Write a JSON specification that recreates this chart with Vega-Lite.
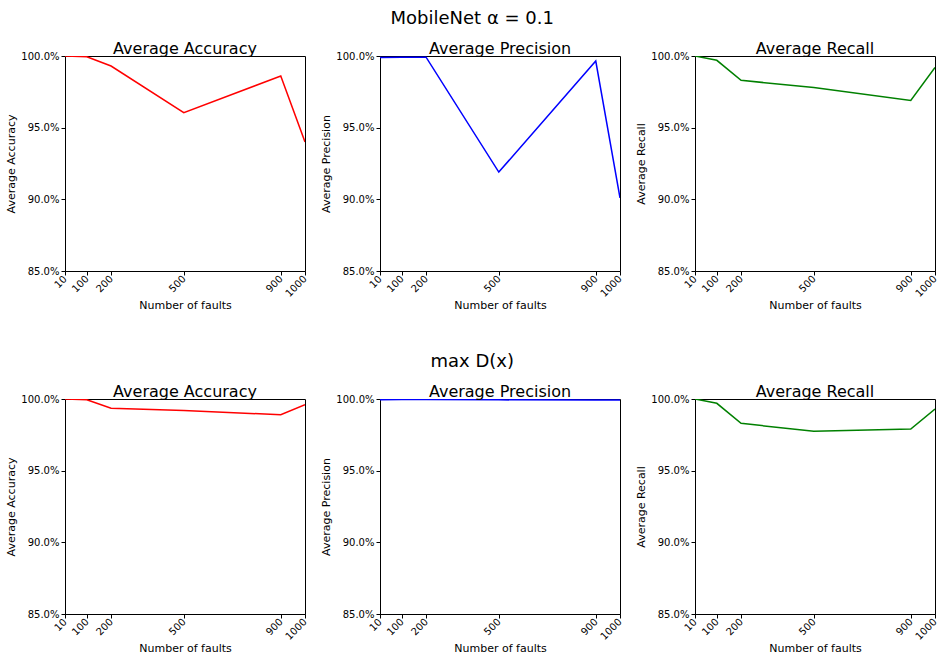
{
  "$schema": "https://vega.github.io/schema/vega-lite/v6.json",
  "padding": {"left": 5, "top": 9, "right": 5, "bottom": 5},
  "background": "white",
  "config": {
    "font": "DejaVu Sans",
    "view": {"stroke": "black", "strokeWidth": 1},
    "axis": {"grid": false, "domainColor": "black", "tickColor": "black", "labelColor": "black", "titleColor": "black", "labelFontSize": 10, "titleFontSize": 11, "titleFontWeight": "normal", "tickSize": 4, "labelPadding": 2, "labelOverlap": false},
    "axisY": {"titlePadding": 4},
    "axisX": {"titlePadding": 1},
    "title": {"fontWeight": "normal", "color": "black"}
  },
  "datasets": {
    "d": [
      {"group": "top", "metric": "Accuracy", "faults": 10, "value": 1.0},
      {"group": "top", "metric": "Accuracy", "faults": 100, "value": 0.9995},
      {"group": "top", "metric": "Accuracy", "faults": 200, "value": 0.993},
      {"group": "top", "metric": "Accuracy", "faults": 500, "value": 0.9605},
      {"group": "top", "metric": "Accuracy", "faults": 900, "value": 0.986},
      {"group": "top", "metric": "Accuracy", "faults": 1000, "value": 0.940},
      {"group": "top", "metric": "Precision", "faults": 10, "value": 0.999},
      {"group": "top", "metric": "Precision", "faults": 100, "value": 0.9992},
      {"group": "top", "metric": "Precision", "faults": 200, "value": 0.9992},
      {"group": "top", "metric": "Precision", "faults": 500, "value": 0.919},
      {"group": "top", "metric": "Precision", "faults": 900, "value": 0.9965},
      {"group": "top", "metric": "Precision", "faults": 1000, "value": 0.901},
      {"group": "top", "metric": "Recall", "faults": 10, "value": 1.0},
      {"group": "top", "metric": "Recall", "faults": 100, "value": 0.997},
      {"group": "top", "metric": "Recall", "faults": 200, "value": 0.983},
      {"group": "top", "metric": "Recall", "faults": 500, "value": 0.978},
      {"group": "top", "metric": "Recall", "faults": 900, "value": 0.969},
      {"group": "top", "metric": "Recall", "faults": 1000, "value": 0.992},
      {"group": "bottom", "metric": "Accuracy", "faults": 10, "value": 1.0},
      {"group": "bottom", "metric": "Accuracy", "faults": 100, "value": 0.9995},
      {"group": "bottom", "metric": "Accuracy", "faults": 200, "value": 0.9935},
      {"group": "bottom", "metric": "Accuracy", "faults": 500, "value": 0.992},
      {"group": "bottom", "metric": "Accuracy", "faults": 900, "value": 0.989},
      {"group": "bottom", "metric": "Accuracy", "faults": 1000, "value": 0.996},
      {"group": "bottom", "metric": "Precision", "faults": 10, "value": 0.9995},
      {"group": "bottom", "metric": "Precision", "faults": 100, "value": 0.9996},
      {"group": "bottom", "metric": "Precision", "faults": 200, "value": 0.9996},
      {"group": "bottom", "metric": "Precision", "faults": 500, "value": 0.9994},
      {"group": "bottom", "metric": "Precision", "faults": 900, "value": 0.9993},
      {"group": "bottom", "metric": "Precision", "faults": 1000, "value": 0.9993},
      {"group": "bottom", "metric": "Recall", "faults": 10, "value": 1.0},
      {"group": "bottom", "metric": "Recall", "faults": 100, "value": 0.997},
      {"group": "bottom", "metric": "Recall", "faults": 200, "value": 0.983},
      {"group": "bottom", "metric": "Recall", "faults": 500, "value": 0.9775},
      {"group": "bottom", "metric": "Recall", "faults": 900, "value": 0.979},
      {"group": "bottom", "metric": "Recall", "faults": 1000, "value": 0.993}
    ]
  },
  "spacing": 40,
  "vconcat": [
    {
      "title": {"text": "MobileNet α = 0.1", "fontSize": 18, "anchor": "middle", "offset": 13},
      "spacing": 10,
      "hconcat": [
        {
          "title": {"text": "Average Accuracy", "fontSize": 16, "offset": -6},
          "width": 240, "height": 215,
          "data": {"name": "d"},
          "transform": [{"filter": "datum.group == 'top' && datum.metric == 'Accuracy'"}],
          "mark": {"type": "line", "color": "#ff0000", "strokeWidth": 1.5, "clip": true},
          "encoding": {
            "x": {"field": "faults", "type": "quantitative", "scale": {"domain": [10, 1000], "nice": false, "zero": false}, "axis": {"values": [10, 100, 200, 500, 900, 1000], "format": "d", "labelAngle": -45, "labelAlign": "right", "labelBaseline": "middle", "title": "Number of faults", "labelFlush": false}},
            "y": {"field": "value", "type": "quantitative", "scale": {"domain": [0.85, 1.0], "nice": false, "zero": false}, "axis": {"values": [0.85, 0.9, 0.95, 1.0], "format": ".1%", "title": "Average Accuracy", "labelFlush": false}}
          }
        },
        {
          "title": {"text": "Average Precision", "fontSize": 16, "offset": -6},
          "width": 240, "height": 215,
          "data": {"name": "d"},
          "transform": [{"filter": "datum.group == 'top' && datum.metric == 'Precision'"}],
          "mark": {"type": "line", "color": "#0000ff", "strokeWidth": 1.5, "clip": true},
          "encoding": {
            "x": {"field": "faults", "type": "quantitative", "scale": {"domain": [10, 1000], "nice": false, "zero": false}, "axis": {"values": [10, 100, 200, 500, 900, 1000], "format": "d", "labelAngle": -45, "labelAlign": "right", "labelBaseline": "middle", "title": "Number of faults", "labelFlush": false}},
            "y": {"field": "value", "type": "quantitative", "scale": {"domain": [0.85, 1.0], "nice": false, "zero": false}, "axis": {"values": [0.85, 0.9, 0.95, 1.0], "format": ".1%", "title": "Average Precision", "labelFlush": false}}
          }
        },
        {
          "title": {"text": "Average Recall", "fontSize": 16, "offset": -6},
          "width": 240, "height": 215,
          "data": {"name": "d"},
          "transform": [{"filter": "datum.group == 'top' && datum.metric == 'Recall'"}],
          "mark": {"type": "line", "color": "#008000", "strokeWidth": 1.5, "clip": true},
          "encoding": {
            "x": {"field": "faults", "type": "quantitative", "scale": {"domain": [10, 1000], "nice": false, "zero": false}, "axis": {"values": [10, 100, 200, 500, 900, 1000], "format": "d", "labelAngle": -45, "labelAlign": "right", "labelBaseline": "middle", "title": "Number of faults", "labelFlush": false}},
            "y": {"field": "value", "type": "quantitative", "scale": {"domain": [0.85, 1.0], "nice": false, "zero": false}, "axis": {"values": [0.85, 0.9, 0.95, 1.0], "format": ".1%", "title": "Average Recall", "labelFlush": false}}
          }
        }
      ]
    },
    {
      "title": {"text": "max D(x)", "fontSize": 18, "anchor": "middle", "offset": 13},
      "spacing": 10,
      "hconcat": [
        {
          "title": {"text": "Average Accuracy", "fontSize": 16, "offset": -6},
          "width": 240, "height": 215,
          "data": {"name": "d"},
          "transform": [{"filter": "datum.group == 'bottom' && datum.metric == 'Accuracy'"}],
          "mark": {"type": "line", "color": "#ff0000", "strokeWidth": 1.5, "clip": true},
          "encoding": {
            "x": {"field": "faults", "type": "quantitative", "scale": {"domain": [10, 1000], "nice": false, "zero": false}, "axis": {"values": [10, 100, 200, 500, 900, 1000], "format": "d", "labelAngle": -45, "labelAlign": "right", "labelBaseline": "middle", "title": "Number of faults", "labelFlush": false}},
            "y": {"field": "value", "type": "quantitative", "scale": {"domain": [0.85, 1.0], "nice": false, "zero": false}, "axis": {"values": [0.85, 0.9, 0.95, 1.0], "format": ".1%", "title": "Average Accuracy", "labelFlush": false}}
          }
        },
        {
          "title": {"text": "Average Precision", "fontSize": 16, "offset": -6},
          "width": 240, "height": 215,
          "data": {"name": "d"},
          "transform": [{"filter": "datum.group == 'bottom' && datum.metric == 'Precision'"}],
          "mark": {"type": "line", "color": "#0000ff", "strokeWidth": 1.5, "clip": true},
          "encoding": {
            "x": {"field": "faults", "type": "quantitative", "scale": {"domain": [10, 1000], "nice": false, "zero": false}, "axis": {"values": [10, 100, 200, 500, 900, 1000], "format": "d", "labelAngle": -45, "labelAlign": "right", "labelBaseline": "middle", "title": "Number of faults", "labelFlush": false}},
            "y": {"field": "value", "type": "quantitative", "scale": {"domain": [0.85, 1.0], "nice": false, "zero": false}, "axis": {"values": [0.85, 0.9, 0.95, 1.0], "format": ".1%", "title": "Average Precision", "labelFlush": false}}
          }
        },
        {
          "title": {"text": "Average Recall", "fontSize": 16, "offset": -6},
          "width": 240, "height": 215,
          "data": {"name": "d"},
          "transform": [{"filter": "datum.group == 'bottom' && datum.metric == 'Recall'"}],
          "mark": {"type": "line", "color": "#008000", "strokeWidth": 1.5, "clip": true},
          "encoding": {
            "x": {"field": "faults", "type": "quantitative", "scale": {"domain": [10, 1000], "nice": false, "zero": false}, "axis": {"values": [10, 100, 200, 500, 900, 1000], "format": "d", "labelAngle": -45, "labelAlign": "right", "labelBaseline": "middle", "title": "Number of faults", "labelFlush": false}},
            "y": {"field": "value", "type": "quantitative", "scale": {"domain": [0.85, 1.0], "nice": false, "zero": false}, "axis": {"values": [0.85, 0.9, 0.95, 1.0], "format": ".1%", "title": "Average Recall", "labelFlush": false}}
          }
        }
      ]
    }
  ]
}
